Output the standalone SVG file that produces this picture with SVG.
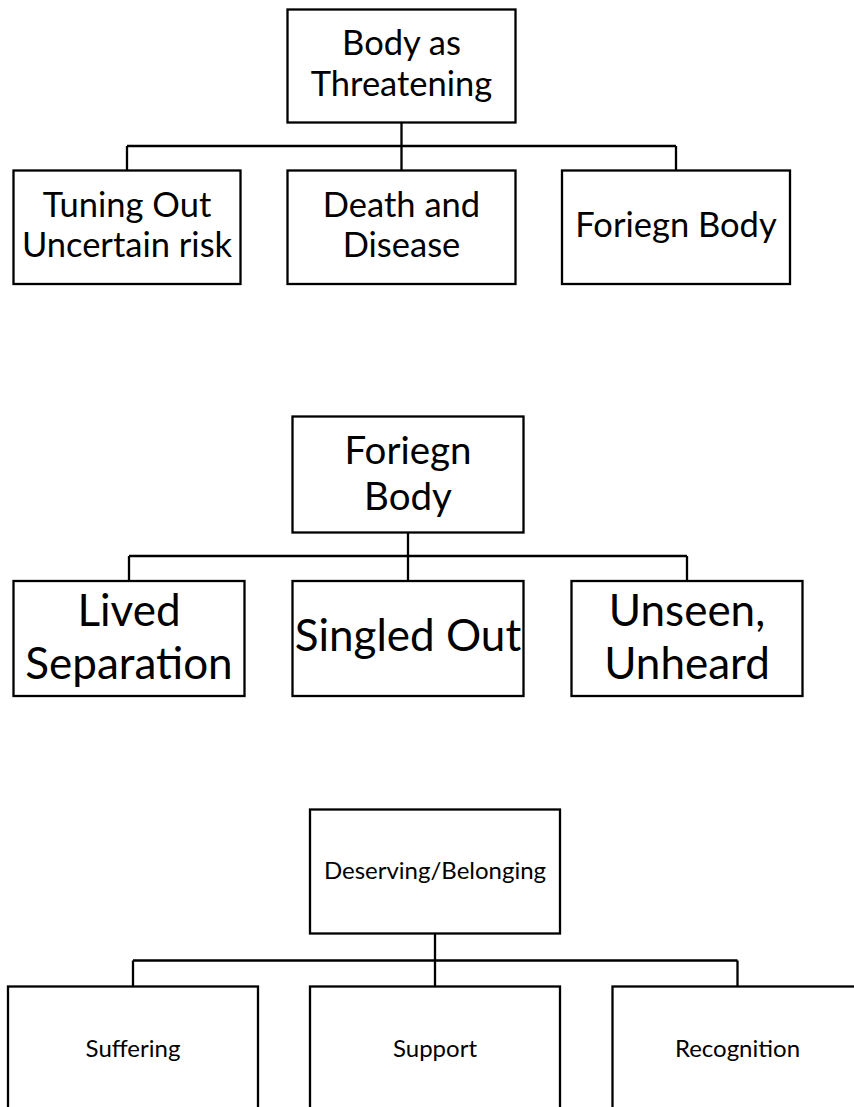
<svg xmlns="http://www.w3.org/2000/svg" width="854" height="1107" viewBox="0 0 854 1107">
<style>
.box{fill:#fff;stroke:#000;stroke-width:2.3}
.conn{fill:none;stroke:#000;stroke-width:2.3}
text{font-family:Lato,"Open Sans",sans-serif;fill:#000;text-anchor:middle}
.t1{font-size:34.5px}
.t2{font-size:38.5px}
.t3{font-size:44px}
.t4{font-size:24px}
</style>
<rect width="854" height="1107" fill="#fff"/>
<g id="connectors">
<path class="conn" d="M401.5 122.5V146M127 146H676M127 146V170.5M401.5 146V170.5M676 146V170.5"/>
<path class="conn" d="M408 532.5V556M129 556H687M129 556V581M408 556V581M687 556V581"/>
<path class="conn" d="M435 933.5V960.5M133 960.5H737.5M133 960.5V986.5M435 960.5V986.5M737.5 960.5V986.5"/>
</g>
<g id="n-body-threatening"><rect class="box" x="287.5" y="9.5" width="228" height="113"/><text class="t1" x="401.5" y="55">Body as</text><text class="t1" x="401.5" y="96">Threatening</text></g>
<g id="n-tuning-out"><rect class="box" x="13.5" y="170.5" width="227" height="113.5"/><text class="t1" x="127" y="216.5">Tuning Out</text><text class="t1" x="127" y="257">Uncertain risk</text></g>
<g id="n-death-disease"><rect class="box" x="287.5" y="170.5" width="228" height="113.5"/><text class="t1" x="401.5" y="216.5">Death and</text><text class="t1" x="401.5" y="257">Disease</text></g>
<g id="n-foriegn-body-1"><rect class="box" x="562" y="170.5" width="228" height="113.5"/><text class="t1" x="676" y="237">Foriegn Body</text></g>
<g id="n-foriegn-body-2"><rect class="box" x="292.5" y="416.5" width="231" height="116"/><text class="t2" x="408" y="463.5">Foriegn</text><text class="t2" x="408" y="509.5">Body</text></g>
<g id="n-lived-separation"><rect class="box" x="13.5" y="581" width="231" height="115"/><text class="t3" x="129" y="626">Lived</text><text class="t3" x="129" y="679">Separation</text></g>
<g id="n-singled-out"><rect class="box" x="292.5" y="581" width="231" height="115"/><text class="t3" x="408" y="650.5">Singled Out</text></g>
<g id="n-unseen-unheard"><rect class="box" x="571.5" y="581" width="231" height="115"/><text class="t3" x="687" y="625.5">Unseen,</text><text class="t3" x="687" y="678.5">Unheard</text></g>
<g id="n-deserving-belonging"><rect class="box" x="310" y="809.5" width="250" height="124"/><text class="t4" x="435" y="878.5">Deserving/Belonging</text></g>
<g id="n-suffering"><rect class="box" x="8" y="986.5" width="250" height="124"/><text class="t4" x="133" y="1057">Suffering</text></g>
<g id="n-support"><rect class="box" x="310" y="986.5" width="250" height="124"/><text class="t4" x="435" y="1057">Support</text></g>
<g id="n-recognition"><rect class="box" x="612.5" y="986.5" width="250" height="124"/><text class="t4" x="737.5" y="1057">Recognition</text></g>
</svg>
